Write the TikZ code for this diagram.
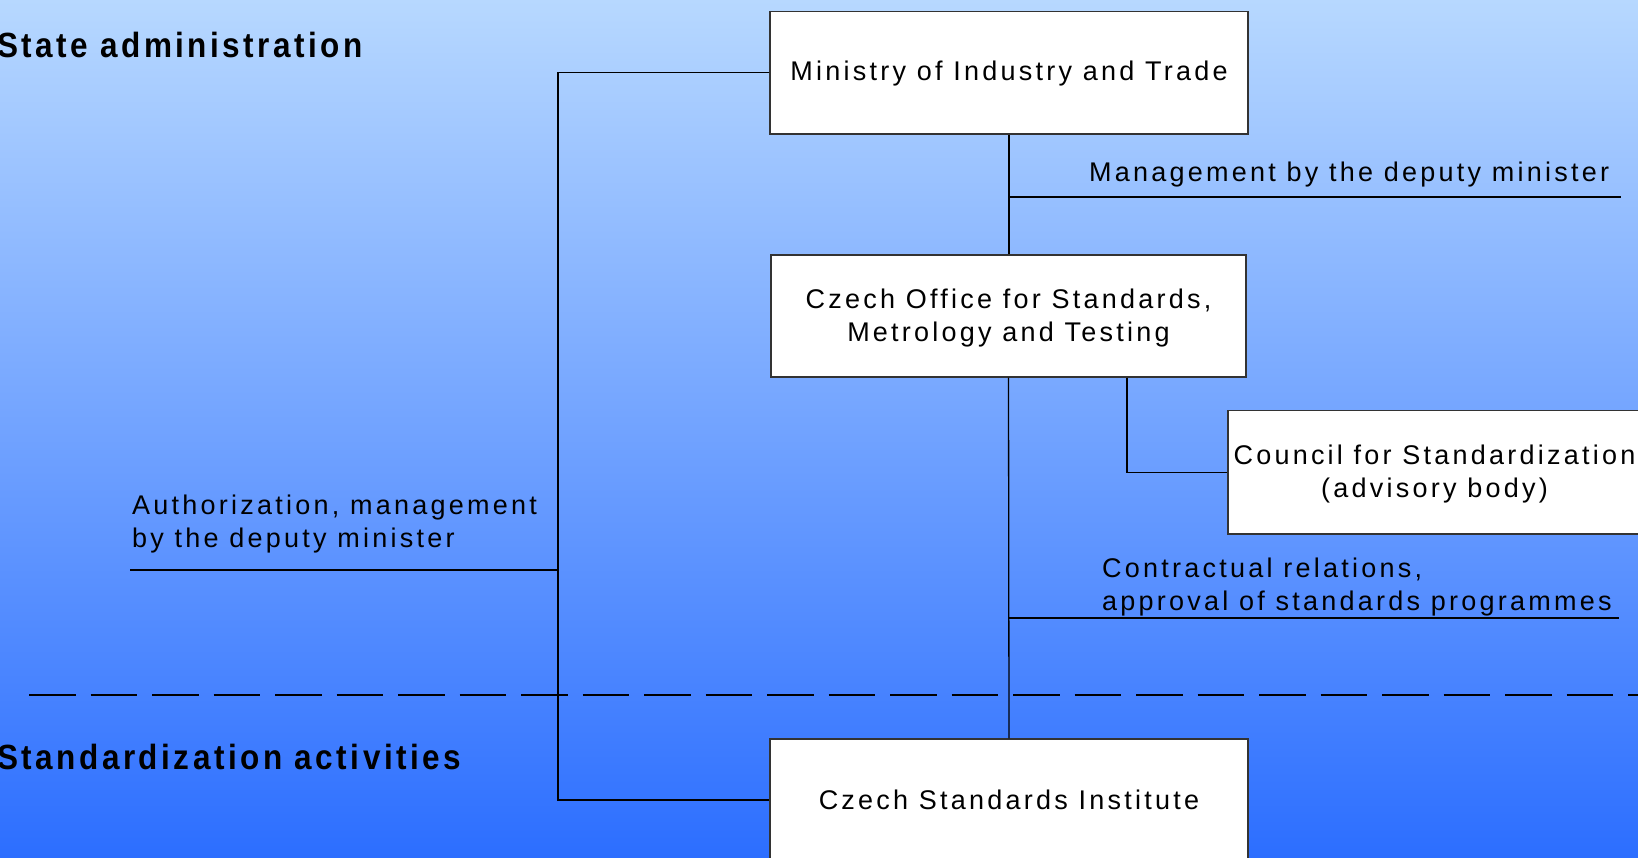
\documentclass[tikz,border=0pt]{standalone}
\usepackage{fontspec}
\setmainfont{Liberation Sans}[LetterSpace=12]
\newfontfamily\headfont{Liberation Sans}[LetterSpace=10, FakeStretch=0.9]
\definecolor{bgtop}{RGB}{183,216,255}
\definecolor{bgbot}{RGB}{44,110,255}
\begin{document}
\begin{tikzpicture}[x=1pt,y=-1pt,
  box/.style={draw=black!80, fill=white, line width=1.3pt, inner sep=0pt, align=center, font=\fontsize{27}{33}\selectfont},
  lbl/.style={inner sep=0pt, font=\fontsize{27}{33}\selectfont, align=left},
  head/.style={inner sep=0pt, font=\headfont\bfseries\fontsize{35}{40}\selectfont},
  conn/.style={line width=1.3pt, black}]
\useasboundingbox (0,0) rectangle (1638,858);
\clip (0,0) rectangle (1638,858);
\shade[top color=bgtop, bottom color=bgbot] (0,0) rectangle (1638,858);

% boxes
\node[box, minimum width=478pt, minimum height=122.5pt] (min) at (1009,72.75) {\rule{0pt}{22pt}Ministry of Industry and Trade};
\node[box, minimum width=475pt, minimum height=122pt] (cos) at (1008.5,316) {\rule{0pt}{24pt}Czech Office for Standards,\\Metrology and Testing};
\node[box, minimum width=413pt, minimum height=123.5pt] (csr) at (1434.5,472.25) {\rule{0pt}{24pt}Council for Standardization\\(advisory body)};
\node[box, minimum width=478pt, minimum height=122pt] (csi) at (1009,800) {Czech Standards Institute};

% connectors
\coordinate (L) at (558,0);
\draw[conn] (min.west) -| (L |- csi.west) -- (csi.west);
\draw[conn] (min.south) -- (min.south |- cos.north);
\draw[conn] (cos.south) -- (csi.north);
\coordinate (mgE) at (1621,197);
\draw[conn] (min.south |- mgE) -- (mgE);
\coordinate (cs1) at (1127,0);
\draw[conn] (cos.south -| cs1) |- (csr.west);
\coordinate (ctE) at (1619,618);
\draw[conn] (cos.south |- ctE) -- (ctE);
\coordinate (auE) at (130,570);
\draw[conn] (auE) -- (L |- auE);
\coordinate (dS) at (29,695);
\coordinate (dE) at (1640,695);
\draw[conn, dash pattern=on 46.5pt off 15pt] (dS) -- (dE);

% labels
\node[head, anchor=base west] (sa) at (-3,58) {State administration};
\node[head, anchor=base west] (sact) at (-3,769) {Standardization activities};
\node[lbl, anchor=base west] (mg) at (1089,181.7) {Management by the deputy minister};
\node[lbl, anchor=north west] (au) at (132,494.5) {Authorization, management\\by the deputy minister};
\node[lbl, anchor=north west] (ct) at (1102,558) {Contractual relations,\\approval of standards programmes};
\end{tikzpicture}
\end{document}
